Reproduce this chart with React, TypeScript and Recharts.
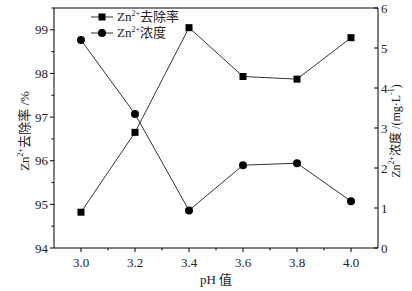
import { LineChart, Line, XAxis, YAxis, ReferenceLine } from 'recharts'

const phValues      = [3.0, 3.2, 3.4, 3.6, 3.8, 4.0]
const removalRate   = [94.82, 96.65, 99.05, 97.93, 97.87, 98.82]
const concentration = [5.2, 3.35, 0.94, 2.07, 2.12, 1.17]

const xTicks     = [3.0, 3.1, 3.2, 3.3, 3.4, 3.5, 3.6, 3.7, 3.8, 3.9, 4.0]
const xMajor     = [3.0, 3.2, 3.4, 3.6, 3.8, 4.0]
const leftTicks  = [94, 94.5, 95, 95.5, 96, 96.5, 97, 97.5, 98, 98.5, 99, 99.5]
const rightTicks = [0, 1, 2, 3, 4, 5, 6]

const data = phValues.map((ph, i) => ({ ph, rate: removalRate[i], conc: concentration[i] }))

const serif = '"Liberation Serif", "Noto Sans CJK SC", serif'
const INK = '#000'
const LINE = '#333'

const isMajor = (v: number, list: number[]) => list.some((m) => Math.abs(m - v) < 1e-6)

function XTick(p: any) {
  const { x, y, payload } = p
  const major = isMajor(payload.value, xMajor)
  return (
    <g>
      <line x1={x} x2={x} y1={y} y2={y + (major ? 4 : 2.5)} stroke={INK} />
      {major && (
        <text x={x} y={y + 19} textAnchor="middle" fontFamily={serif} fontSize={13} fill="#222">
          {payload.value.toFixed(1)}
        </text>
      )}
    </g>
  )
}

function LeftTick(p: any) {
  const { x, y, payload } = p
  const major = Number.isInteger(payload.value)
  return (
    <g>
      <line x1={x} x2={x - (major ? 4 : 2.5)} y1={y} y2={y} stroke={INK} />
      {major && (
        <text x={x - 6} y={y + 4.5} textAnchor="end" fontFamily={serif} fontSize={13} fill="#222">
          {payload.value}
        </text>
      )}
    </g>
  )
}

function RightTick(p: any) {
  const { x, y, payload } = p
  return (
    <g>
      <line x1={x} x2={x - 4} y1={y} y2={y} stroke={INK} />
      <text x={x + 3} y={y + 4.5} textAnchor="start" fontFamily={serif} fontSize={13} fill="#222">
        {payload.value}
      </text>
    </g>
  )
}

function Square(p: any) {
  const { cx, cy } = p
  if (cx == null || cy == null) return null
  return <rect x={cx - 3.5} y={cy - 3.5} width={7} height={7} fill={INK} />
}

function Dot(p: any) {
  const { cx, cy } = p
  if (cx == null || cy == null) return null
  return <circle cx={cx} cy={cy} r={4} fill={INK} />
}

function LegendBox() {
  const row = (marker: 'square' | 'circle', label: string) => (
    <div style={{ display: 'flex', alignItems: 'center', height: 16 }}>
      <svg width={24} height={12}>
        <line x1={0} x2={22} y1={6} y2={6} stroke={LINE} />
        {marker === 'square'
          ? <rect x={7.5} y={2.5} width={7} height={7} fill={INK} />
          : <circle cx={11} cy={6} r={4} fill={INK} />}
      </svg>
      <span style={{ fontFamily: serif, fontSize: 13, color: '#222', marginLeft: 2, lineHeight: '16px', whiteSpace: 'nowrap' }}>
        Zn<sup style={{ fontSize: 8, lineHeight: 0 }}>2+</sup>{label}
      </span>
    </div>
  )
  return (
    <div style={{ position: 'absolute', left: 91, top: 9 }}>
      {row('square', '去除率')}
      {row('circle', '浓度')}
    </div>
  )
}

export default function App() {
  return (
    <div style={{ position: 'absolute', left: 0, top: 0, width: 412, height: 291, background: '#fff' }}>
      <LineChart width={412} height={291} data={data} margin={{ top: 8, right: 0, bottom: 0, left: 0 }}>
        <XAxis
          dataKey="ph"
          type="number"
          domain={[2.9, 4.1]}
          ticks={xTicks}
          interval={0}
          height={43}
          tickSize={0}
          tickMargin={0}
          tickLine={false}
          axisLine={{ stroke: INK }}
          tick={XTick}
          label={{
            content: () => (
              <text x={216} y={284} textAnchor="middle" fontFamily={serif} fontSize={13} fill="#222">
                pH 值
              </text>
            ),
          }}
        />
        <YAxis
          yAxisId="left"
          domain={[94, 99.5]}
          ticks={leftTicks}
          interval={0}
          width={54}
          tickSize={0}
          tickMargin={0}
          tickLine={false}
          axisLine={{ stroke: INK }}
          tick={LeftTick}
          label={{
            content: () => (
              <text
                x={26}
                y={131}
                transform="rotate(-90 26 131)"
                textAnchor="middle"
                dominantBaseline="middle"
                fontFamily={serif}
                fontSize={13}
                fill="#222"
              >
                Zn<tspan fontSize={8} dy={-5}>2+</tspan><tspan dy={5}>去除率 /%</tspan>
              </text>
            ),
          }}
        />
        <YAxis
          yAxisId="right"
          orientation="right"
          domain={[0, 6]}
          ticks={rightTicks}
          interval={0}
          width={34}
          tickSize={0}
          tickMargin={0}
          tickLine={false}
          axisLine={{ stroke: INK }}
          tick={RightTick}
          label={{
            content: () => (
              <text
                x={397}
                y={131}
                transform="rotate(-90 397 131)"
                textAnchor="middle"
                dominantBaseline="middle"
                fontFamily={serif}
                fontSize={12}
                fill="#222"
              >
                Zn<tspan fontSize={8} dy={-5}>2+</tspan><tspan dy={5}>浓度 /(mg·L</tspan><tspan fontSize={8} dy={-5}>-1</tspan><tspan dy={5}>)</tspan>
              </text>
            ),
          }}
        />
        <ReferenceLine yAxisId="left" y={99.5} stroke={INK} />
        <Line
          yAxisId="left"
          dataKey="rate"
          stroke={LINE}
          strokeWidth={1}
          dot={Square}
          activeDot={false}
          isAnimationActive={false}
        />
        <Line
          yAxisId="right"
          dataKey="conc"
          stroke={LINE}
          strokeWidth={1}
          dot={Dot}
          activeDot={false}
          isAnimationActive={false}
        />
      </LineChart>
      <LegendBox />
    </div>
  )
}
